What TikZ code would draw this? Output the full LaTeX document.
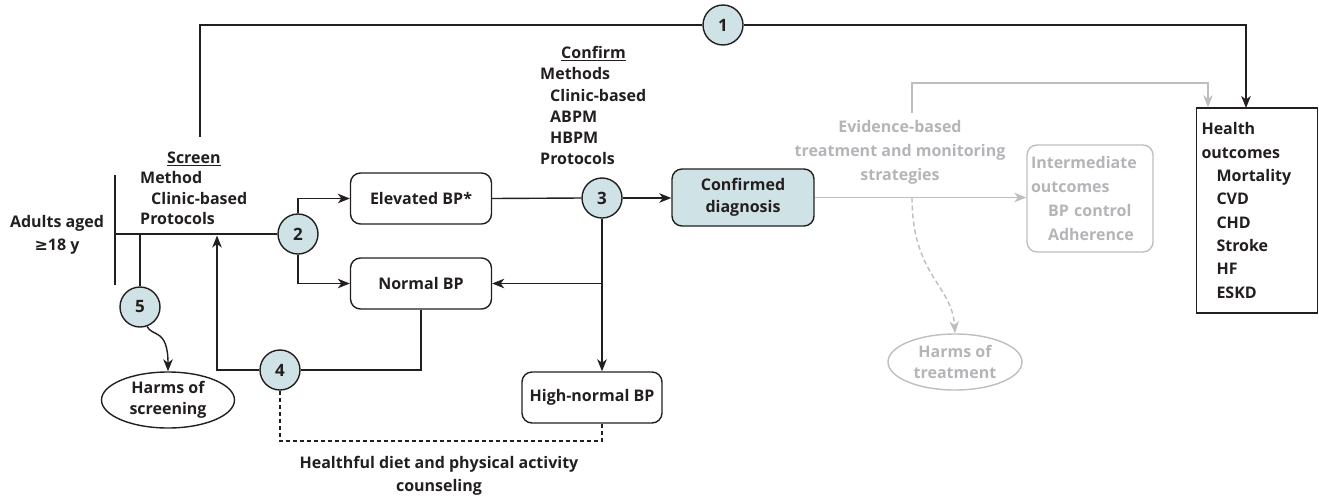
\documentclass[tikz,border=0pt]{standalone}
\usepackage{fontspec}
\setmainfont{Open Sans}
\newfontfamily\symfont{DejaVu Sans}
\usetikzlibrary{arrows.meta,shapes.geometric}
\definecolor{ink}{HTML}{231F20}
\definecolor{kqblue}{HTML}{CFE2E5}
\definecolor{lgray}{HTML}{BCBEC0}
\definecolor{tgray}{HTML}{B3B5B8}
\tikzset{
  ln/.style={line width=1.4pt, draw=ink},
  gln/.style={line width=1.4pt, draw=lgray},
  tip/.style={-{Stealth[length=12pt,width=9.5pt,inset=3.5pt]}},
  kq/.style={circle, draw=ink, fill=kqblue, line width=1.4pt, minimum size=40pt, inner sep=0pt,
    font=\bfseries\fontsize{17}{17}\selectfont, text=ink},
  bpbox/.style={rounded corners=10pt, draw=ink, line width=1.4pt, minimum width=141pt,
    minimum height=51pt, align=center, inner sep=0pt, font=\bfseries\fontsize{16}{22}\selectfont, text=ink},
  txt/.style={inner sep=0pt, align=left, anchor=north west, text=ink},
  ctxt/.style={inner sep=0pt, align=center, font=\bfseries\fontsize{16}{22.5}\selectfont, text=ink},
  harm/.style={ellipse, draw=ink, line width=1.4pt, minimum width=133pt, minimum height=56pt,
    inner sep=0pt, align=center, font=\bfseries\fontsize{16}{21.5}\selectfont, text=ink},
}
\begin{document}
\begin{tikzpicture}[x=1pt,y=-1pt]
\useasboundingbox (0,0) rectangle (1319,499);

% text blocks
\node[ctxt] (adults) at (57,235) {Adults aged\\{\symfont\bfseries ≥}18 y};
\node[txt, font=\bfseries\fontsize{16}{20.2}\selectfont] (screen) at (140,152)
  {\hspace*{27pt}\underline{Screen}\\Method\\\hspace*{11pt}Clinic-based\\Protocols};
\node[txt, font=\bfseries\fontsize{16}{21.3}\selectfont] (confirm) at (540,46)
  {\hspace*{21pt}\underline{Confirm}\\Methods\\\hspace*{10pt}Clinic-based\\\hspace*{10pt}ABPM\\\hspace*{10pt}HBPM\\Protocols};
\node[ctxt, text=tgray, font=\bfseries\fontsize{16}{24}\selectfont] (ebt) at (900,152) {Evidence-based\\treatment and monitoring\\strategies};
\node[ctxt] (counsel) at (439,476) {Healthful diet and physical activity\\counseling};

% key questions
\node[kq] (c1) at (723,25) {1};
\node[kq] (c2) at (298,234) {2};
\node[kq] (c3) at (602,198) {3};
\node[kq] (c4) at (280,370) {4};
\node[kq] (c5) at (140,307) {5};

% boxes
\node[bpbox] (elev) at (421,198.5) {Elevated BP*};
\node[bpbox] (norm) at (421,283.5) {Normal BP};
\node[bpbox, minimum width=140pt] (hn) at (592,397.5) {High-normal BP};
\node[bpbox, fill=kqblue, minimum width=142pt, minimum height=57pt] (conf) at (743,197.5) {Confirmed\\diagnosis};
\node[bpbox, draw=lgray, text=tgray, minimum width=126pt, minimum height=107pt, text width=118pt,
  align=left, inner xsep=4pt, font=\bfseries\fontsize{16}{24}\selectfont] (inter) at (1090,198.5)
  {Intermediate\\outcomes\\\hspace*{17pt}BP control\\\hspace*{17pt}Adherence};
\node[draw=ink, line width=1.4pt, minimum width=121pt, minimum height=205pt, text width=111pt,
  inner xsep=5pt, inner ysep=0pt, align=left, font=\bfseries\fontsize{16}{23.3}\selectfont, text=ink] (health) at (1257,210.5)
  {Health\\outcomes\\\hspace*{15pt}Mortality\\\hspace*{15pt}CVD\\\hspace*{15pt}CHD\\\hspace*{15pt}Stroke\\\hspace*{15pt}HF\\\hspace*{15pt}ESKD};
\node[harm] (hs) at (168,400) {Harms of\\screening};
\node[harm, draw=lgray, text=tgray, minimum width=134pt] (ht) at (955,362) {Harms of\\treatment};

% coordinates
\coordinate (ab1) at (115,175);
\coordinate (ab2) at (115,285);
\coordinate (s1) at (200,137);
\coordinate (hb) at (1246,108);
\coordinate (m4) at (217,235.5);
\coordinate (gs) at (912,113);
\coordinate (gt) at (1208,83);
\coordinate (gd) at (912,197.5);

% black connectors
\draw[ln] (ab1) -- (ab2);
\draw[ln] (ab1 |- c2.west) -- (c2.west);
\draw[ln] (s1) |- (c1.west);
\draw[ln,tip] (c1.east) -| (hb);
\draw[ln,tip] (c2.north) |- (elev.west);
\draw[ln,tip] (c2.south) |- (norm.west);
\draw[ln] (elev.east) -- (c3.west);
\draw[ln,tip] (c3.east) -- (c3.east -| conf.west);
\draw[ln,tip] (c3.south) -- (c3.south |- hn.north);
\draw[ln,tip] (c3.south |- norm.east) -- (norm.east);
\draw[ln] (c5.north) -- (c5.north |- c2.west);
\draw[ln,tip] (c5.-70) .. controls (152,337) and (168,328) .. (hs.north);
\draw[ln] (norm.south) |- (c4.east);
\draw[ln,tip] (c4.west) -| (m4);
\draw[ln,dashed,dash pattern=on 4pt off 3pt] (c4.south) |- (c3.south |- 0,441) -- (c3.south |- hn.south);

% gray connectors
\draw[gln,tip] (conf.east) -- (conf.east -| inter.west);
\draw[gln,tip] (gs) |- (gt) -- (gt |- health.north);
\draw[gln,tip,dash pattern=on 5pt off 3pt] (gd) .. controls (912,275) and (952,285) .. (ht.north);
\end{tikzpicture}
\end{document}
